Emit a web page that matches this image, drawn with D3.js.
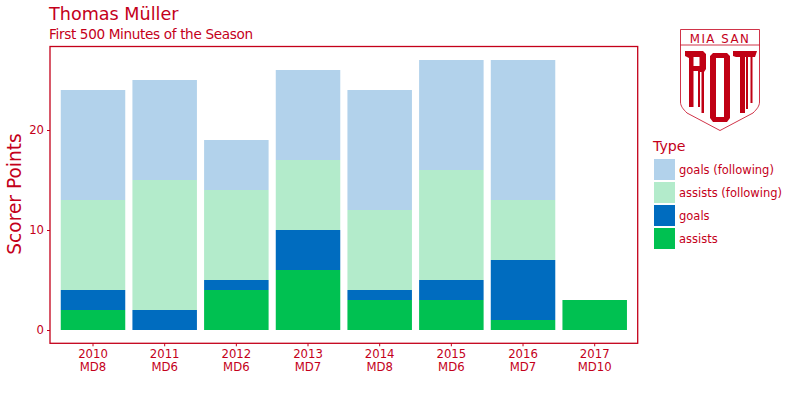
<!DOCTYPE html>
<html><head><meta charset="utf-8">
<script src="https://cdn.jsdelivr.net/npm/d3@7"></script>
<style>html,body{margin:0;padding:0;background:#fff}svg{display:block}text{font-family:"DejaVu Sans",sans-serif;fill:#c4001a}</style>
</head><body><svg id="c" width="800" height="400"></svg>
<script>
const seasons=["2010","2011","2012","2013","2014","2015","2016","2017"];
const matchdays=["MD8","MD6","MD6","MD7","MD8","MD6","MD7","MD10"];
const assists=[2,0,4,6,3,3,1,3];
const goals=[2,2,1,4,1,2,6,0];
const assistsFollowing=[9,13,9,7,8,11,6,0];
const goalsFollowing=[11,10,5,9,12,11,14,0];
const typeNames=["goals (following)","assists (following)","goals","assists"];
const typeColors=["#b2d2eb","#b3ebcb","#006cbf","#00c151"];
const yTicks=[0,10,20];
const red="#c4001a";

const svg=d3.select("#c");
const L=50,R=637.7,T=46.5,B=343.3;
const x=d3.scaleBand().domain(seasons).range([L,R]).paddingInner(0.1).paddingOuter(0.15);
const y=d3.scaleLinear().domain([0,27]).range([330,60]);

const stackKeys=["assists","goals","af","gf"];
const rows=seasons.map((s,i)=>({s,assists:assists[i],goals:goals[i],af:assistsFollowing[i],gf:goalsFollowing[i]}));
const stacked=d3.stack().keys(stackKeys)(rows);
const colorOf={assists:typeColors[3],goals:typeColors[2],af:typeColors[1],gf:typeColors[0]};

svg.append("g").selectAll("g").data(stacked).join("g").attr("fill",d=>colorOf[d.key])
 .selectAll("rect").data(d=>d).join("rect")
 .attr("x",d=>x(d.data.s)).attr("width",x.bandwidth())
 .attr("y",d=>y(d[1])).attr("height",d=>y(d[0])-y(d[1]));

svg.append("rect").attr("x",L).attr("y",T).attr("width",R-L).attr("height",B-T)
 .attr("fill","none").attr("stroke",red).attr("stroke-width",1.3);

const ax=d3.axisBottom(x).tickSize(3).tickFormat("");
const gx=svg.append("g").attr("transform",`translate(0,${B})`).call(ax);
gx.select(".domain").remove();
gx.selectAll("line").attr("stroke",red);
gx.selectAll(".tick").append("text").attr("text-anchor","middle").attr("font-size",11.7)
 .selectAll("tspan").data((d,i)=>[seasons[i],matchdays[i]]).join("tspan")
 .attr("x",0).attr("y",(d,i)=>15+i*12.5).text(d=>d);

const ay=d3.axisLeft(y).tickValues(yTicks).tickSize(3).tickFormat(d3.format("d"));
const gy=svg.append("g").attr("transform",`translate(${L},0)`).call(ay);
gy.select(".domain").remove();
gy.selectAll("line").attr("stroke",red);
gy.selectAll("text").attr("font-size",11.7).attr("fill",red).attr("x",-6);

svg.append("text").attr("x",49).attr("y",20).attr("font-size",17.6).text("Thomas Müller");
svg.append("text").attr("x",49).attr("y",39).attr("font-size",13.6).attr("textLength",204).attr("lengthAdjust","spacing").text("First 500 Minutes of the Season");
svg.append("text").attr("transform","translate(21,194) rotate(-90)").attr("text-anchor","middle").attr("font-size",18.6).text("Scorer Points");

svg.append("text").attr("x",653).attr("y",151).attr("font-size",14.2).text("Type");
const lg=svg.append("g").selectAll("g").data(typeNames).join("g")
 .attr("transform",(d,i)=>`translate(654,${159+i*23})`);
lg.append("rect").attr("width",21).attr("height",21).attr("fill",(d,i)=>typeColors[i]);
lg.append("text").attr("x",25).attr("y",15).attr("font-size",11.5).text(d=>d);

const logo=svg.append("g").attr("transform","translate(680,29)");
logo.append("path").attr("d","M0.5,0.5H79.5V73C79.5,77 77,80 73,84L40,101.5L7,84C3,80 0.5,77 0.5,73Z")
 .attr("fill","#fff").attr("stroke",red).attr("stroke-width",0.8);
logo.append("line").attr("x1",0.5).attr("x2",79.5).attr("y1",16).attr("y2",16).attr("stroke",red).attr("stroke-width",0.8);
logo.append("text").attr("x",40).attr("y",13.5).attr("text-anchor","middle").attr("font-size",11.8).attr("letter-spacing",1.5).text("MIA SAN");
const glyphs=[
 "M5,22H23L26,25V40L24,43V84H21.5V43H20V78H18V42H13.5V78H9V29L5,27Z M13.5,28V37H19.5V28Z",
 "M33,24H47L50,27V89L47,93H33L30,89V27Z M36,29V88H44V29Z",
 "M53,22H77L75,28H72.5V74H70.5V28H68V80H66V28H65V84H60V28H56L53,27Z"
];
logo.selectAll("path.g").data(glyphs).join("path").attr("class","g").attr("d",d=>d).attr("fill","#c00014").attr("fill-rule","evenodd");
</script></body></html>
